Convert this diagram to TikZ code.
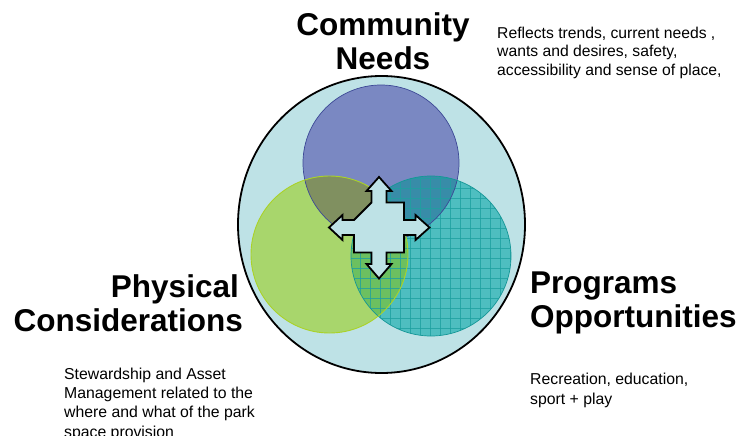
\documentclass[tikz,border=0pt]{standalone}
\usepackage{fontspec}
\setmainfont{Liberation Sans}
\definecolor{bgc}{RGB}{190,226,230}
\definecolor{bluec}{RGB}{122,136,194}
\definecolor{tealc}{RGB}{78,190,192}
\definecolor{greenc}{RGB}{168,214,108}
\definecolor{bgov}{RGB}{128,144,96}
\definecolor{btov}{RGB}{56,140,168}
\definecolor{gtov}{RGB}{108,192,96}
\definecolor{gridc}{RGB}{30,160,160}
\definecolor{blueb}{RGB}{60,72,150}
\definecolor{tealb}{RGB}{20,150,150}
\definecolor{greenb}{RGB}{170,210,40}
\tikzset{
  title/.style={font=\fontsize{31.5}{34}\selectfont\bfseries, inner sep=0pt},
  desc/.style={font=\fontsize{15.8}{19.3}\selectfont, inner sep=0pt, align=left, anchor=base west},
}
\begin{document}
\begin{tikzpicture}[x=1pt,y=-1pt]
\useasboundingbox (0,0) rectangle (741,436);
\coordinate (E) at (381.5,224.5);
\coordinate (B) at (381,163);
\coordinate (G) at (329.5,254.5);
\coordinate (T) at (431,256);
% big ellipse
\fill[bgc] (E) ellipse (143.5 and 148.5);
% circles
\fill[bluec] (B) circle [radius=78pt];
\fill[tealc] (T) circle [radius=80pt];
\fill[greenc] (G) circle [radius=78.5pt];
\begin{scope}
  \clip (B) circle [radius=78pt];
  \fill[bgov] (G) circle [radius=78.5pt];
  \fill[btov] (T) circle [radius=80pt];
\end{scope}
\begin{scope}
  \clip (G) circle [radius=78.5pt];
  \fill[gtov] (T) circle [radius=80pt];
\end{scope}
% grid on teal circle
\begin{scope}
  \clip (T) circle [radius=80pt];
  \foreach \i in {0,...,17} {
    \draw[gridc, line width=0.7pt, opacity=0.8] (350+\i*10,170) -- ++(0,175);
    \draw[gridc, line width=0.7pt, opacity=0.8] (345,178+\i*10) -- ++(175,0);
  }
\end{scope}
% borders
\draw[blueb, line width=0.7pt] (B) circle [radius=78pt];
\draw[tealb, line width=0.7pt] (T) circle [radius=80pt];
\draw[greenb, line width=0.9pt] (G) circle [radius=78.5pt];
\draw[black, line width=1.8pt] (E) ellipse (143.5 and 148.5);
% four-way arrow
\begin{scope}[shift={(379,227.5)}]
\draw[fill=bgc, line width=1.8pt, line join=miter]
  (-7.5,-25) -- (-7.5,-36.5) -- (-12.5,-36.5) -- (0,-50.5) -- (12.5,-36.5) -- (7.5,-36.5) -- (7.5,-25)
  -- (25,-25) -- (25,-7.5) -- (36.5,-7.5) -- (36.5,-12.5) -- (50.5,0) -- (36.5,12.5) -- (36.5,7.5) -- (25,7.5)
  -- (25,25) -- (7.5,25) -- (7.5,36.5) -- (12.5,36.5) -- (0,51) -- (-12.5,36.5) -- (-7.5,36.5) -- (-7.5,25)
  -- (-25,25) -- (-25,7.5) -- (-36.5,7.5) -- (-36.5,12.5) -- (-50,0) -- (-36.5,-12.5) -- (-36.5,-7.5) -- (-25,-7.5)
  -- cycle;
\end{scope}
% titles (base anchor = baseline of the last line)
\node[title, align=center, anchor=base] (cn) at (383,70) {Community\\Needs};
\node[title, align=right, anchor=base east] (pc) at (243,331) {Physical\kern4pt\\Considerations};
\node[title, align=left, anchor=base west] (po) at (530,327) {Programs\\Opportunities};
% descriptions
\node[desc, font=\fontsize{15.7}{18.5}\selectfont] (cnd) at (497,75) {Reflects trends, current needs ,\\wants and desires, safety,\\accessibility and sense of place,};
\node[desc] (pcd) at (64,437) {Stewardship and Asset\\Management related to the\\where and what of the park\\space provision};
\node[desc, font=\fontsize{15.8}{20}\selectfont] (pod) at (530,404) {Recreation, education,\\sport + play};
\end{tikzpicture}
\end{document}
